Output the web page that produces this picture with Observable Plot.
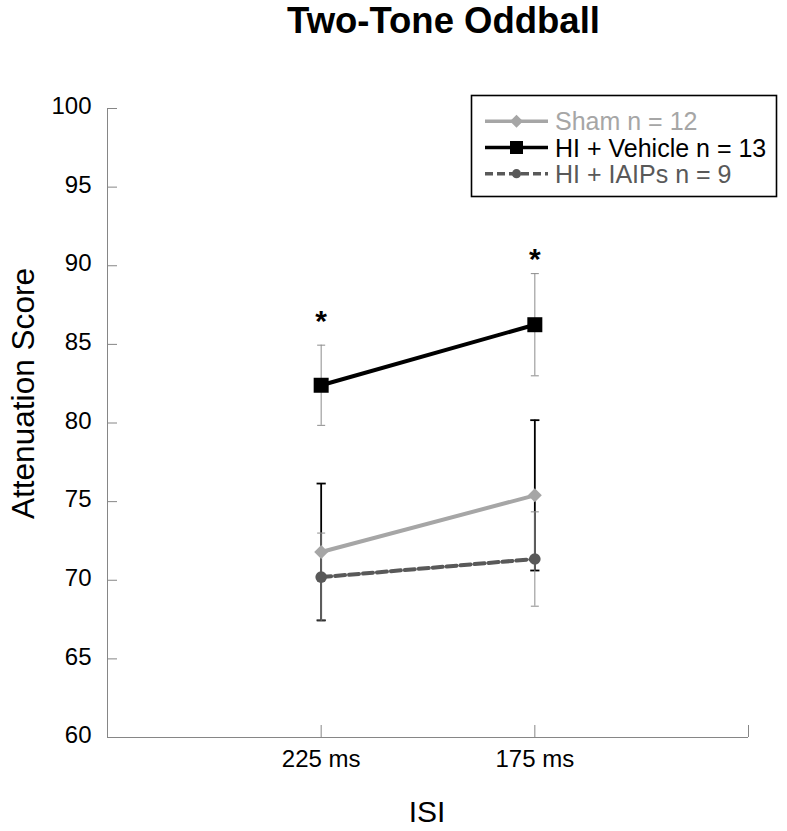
<!DOCTYPE html>
<html><head><meta charset="utf-8">
<script src="https://cdn.jsdelivr.net/npm/d3@7"></script>
<script src="https://cdn.jsdelivr.net/npm/@observablehq/plot@0.6"></script>
<style>
body{margin:0;background:#fff;font-family:"Liberation Sans", Arial, sans-serif;}
#wrap{position:relative;width:787px;height:831px;}
#wrap svg.overlay{position:absolute;left:0;top:0;pointer-events:none;}
</style></head><body><div id="wrap"></div>
<script>
// ---- data ----
const categories = ["225 ms", "175 ms"];
const seriesNames = ["Sham n = 12", "HI + Vehicle n = 13", "HI + IAIPs n = 9"];
const shamMean = [71.8, 75.4];
const shamErr = [4.35, 4.78];
const vehicleMean = [82.4, 86.25];
const vehicleErr = [2.55, 3.25];
const iaipsMean = [70.2, 71.35];
const iaipsErr = [2.8, 3.0];
const yTicks = [60, 65, 70, 75, 80, 85, 90, 95, 100];
const sigY = [86.45, 90.4]; // asterisk heights
const titleText = "Two-Tone Oddball";
const xLabel = "ISI";
const yLabel = "Attenuation Score";

// ---- styles ----
const axisColor = "#868686";
const hbar = {draw(ctx, size){const r = Math.sqrt(size/Math.PI); ctx.moveTo(-r,0); ctx.lineTo(r,0);}};
const diamond = {draw(ctx, size){const r = Math.sqrt(size/Math.PI); ctx.moveTo(0,-r); ctx.lineTo(r,0); ctx.lineTo(0,r); ctx.lineTo(-r,0); ctx.closePath();}};
const square = {draw(ctx, size){const r = Math.sqrt(size/Math.PI); ctx.rect(-r,-r,2*r,2*r);}};

const series = [
  {name: seriesNames[0], mean: shamMean, err: shamErr, color: "#a6a6a6", dash: null, symbol: diamond, r: 7, lr: 6.5, errColor: "#000", errWidth: 1.8, cap: 4.6},
  {name: seriesNames[1], mean: vehicleMean, err: vehicleErr, color: "#000000", dash: null, symbol: square, r: 7.5, lr: 6.5, errColor: "#8c8c8c", errWidth: 1, cap: 4},
  {name: seriesNames[2], mean: iaipsMean, err: iaipsErr, color: "#595959", dash: "10,4", symbol: "circle", r: 5.8, lr: 4.6, errColor: "#8c8c8c", errWidth: 1, cap: 4}
];
series.forEach(s => {
  s.rows = categories.map((c, i) => ({series: s.name, isi: c, xi: i + 1, mean: s.mean[i], lo: s.mean[i] - s.err[i], hi: s.mean[i] + s.err[i]}));
});
const sig = categories.map((c, i) => ({xi: i + 1, y: sigY[i]}));

const W = 787, H = 831, mL = 107, mR = 39, mT = 108, mB = 94;
const frameW = W - mL - mR, frameH = H - mT - mB;

const marks = [
  Plot.ruleX([0], {stroke: axisColor, strokeWidth: 1}),
  Plot.ruleY([60], {stroke: axisColor, strokeWidth: 1}),
  Plot.tickY(yTicks, {y: d => d, stroke: axisColor, insetRight: frameW - 10}),
  Plot.tickX([1, 2, 3], {x: d => d, stroke: axisColor, insetTop: frameH - 12}),
  Plot.axisY({ticks: yTicks, tickSize: 0, tickPadding: 16, fontSize: 24, dy: -2, label: null, fill: "#000"}),
  Plot.axisX({ticks: [1, 2], tickFormat: i => categories[i - 1], tickSize: 0, tickPadding: 12, fontSize: 24, label: null, fill: "#000"})
];
// error bars
for (const s of series) {
  marks.push(Plot.ruleX(s.rows, {x: "xi", y1: "lo", y2: "hi", stroke: s.errColor, strokeWidth: s.errWidth}));
  marks.push(Plot.dot(s.rows, {x: "xi", y: "hi", symbol: hbar, r: s.cap, fill: "none", stroke: s.errColor, strokeWidth: s.errWidth}));
  marks.push(Plot.dot(s.rows, {x: "xi", y: "lo", symbol: hbar, r: s.cap, fill: "none", stroke: s.errColor, strokeWidth: s.errWidth}));
}
// lines and markers
for (const s of series) {
  marks.push(Plot.line(s.rows, {x: "xi", y: "mean", stroke: s.color, strokeWidth: 4, strokeDasharray: s.dash}));
}
for (const s of series) {
  marks.push(Plot.dot(s.rows, {x: "xi", y: "mean", symbol: s.symbol, r: s.r, fill: s.color, stroke: "none"}));
}
marks.push(Plot.text(sig, {x: "xi", y: "y", text: () => "*", fontSize: 30, fontWeight: "bold", fill: "#000", lineAnchor: "middle"}));
marks.push(Plot.text([titleText], {frameAnchor: "top", textAnchor: "middle", lineAnchor: "middle", dx: 15.5, dy: -87, fontSize: 36.5, fontWeight: "bold", fill: "#000"}));
marks.push(Plot.text([xLabel], {frameAnchor: "bottom", textAnchor: "middle", lineAnchor: "middle", dx: -1, dy: 74.5, fontSize: 30, fill: "#000"}));
marks.push(Plot.text([yLabel], {frameAnchor: "left", textAnchor: "middle", lineAnchor: "middle", rotate: -90, dx: -84, dy: -29.5, fontSize: 31.6, fill: "#000"}));

const chart = Plot.plot({
  width: W, height: H,
  marginLeft: mL, marginRight: mR, marginTop: mT, marginBottom: mB,
  style: {fontFamily: '"Liberation Sans", Arial, sans-serif', background: "#fff", overflow: "visible"},
  x: {type: "linear", domain: [0, 3], axis: null},
  y: {type: "linear", domain: [60, 100], axis: null},
  marks
});
const wrap = document.getElementById("wrap");
wrap.appendChild(chart);

// ---- legend ----
const lg = d3.select(wrap).append("svg").attr("class", "overlay").attr("width", W).attr("height", H)
  .style("font-family", '"Liberation Sans", Arial, sans-serif');
lg.append("rect").attr("x", 471.5).attr("y", 95.5).attr("width", 305).attr("height", 101)
  .attr("fill", "#fff").attr("stroke", "#000").attr("stroke-width", 1.6);
series.forEach((s, i) => {
  const cy = 121.3 + i * 26.2;
  const g = lg.append("g");
  g.append("line").attr("x1", 485).attr("x2", 548).attr("y1", cy).attr("y2", cy)
    .attr("stroke", s.color).attr("stroke-width", 3.5).attr("stroke-dasharray", s.dash ? "8,4" : null);
  const sym = typeof s.symbol === "string" ? d3.symbolCircle : s.symbol;
  g.append("path").attr("transform", `translate(516.5,${cy})`)
    .attr("d", d3.symbol(sym, Math.PI * s.lr * s.lr)()).attr("fill", s.color);
  g.append("text").attr("x", 555).attr("y", cy + 9).attr("font-size", 25).attr("fill", s.color).text(s.name);
});
</script></body></html>
